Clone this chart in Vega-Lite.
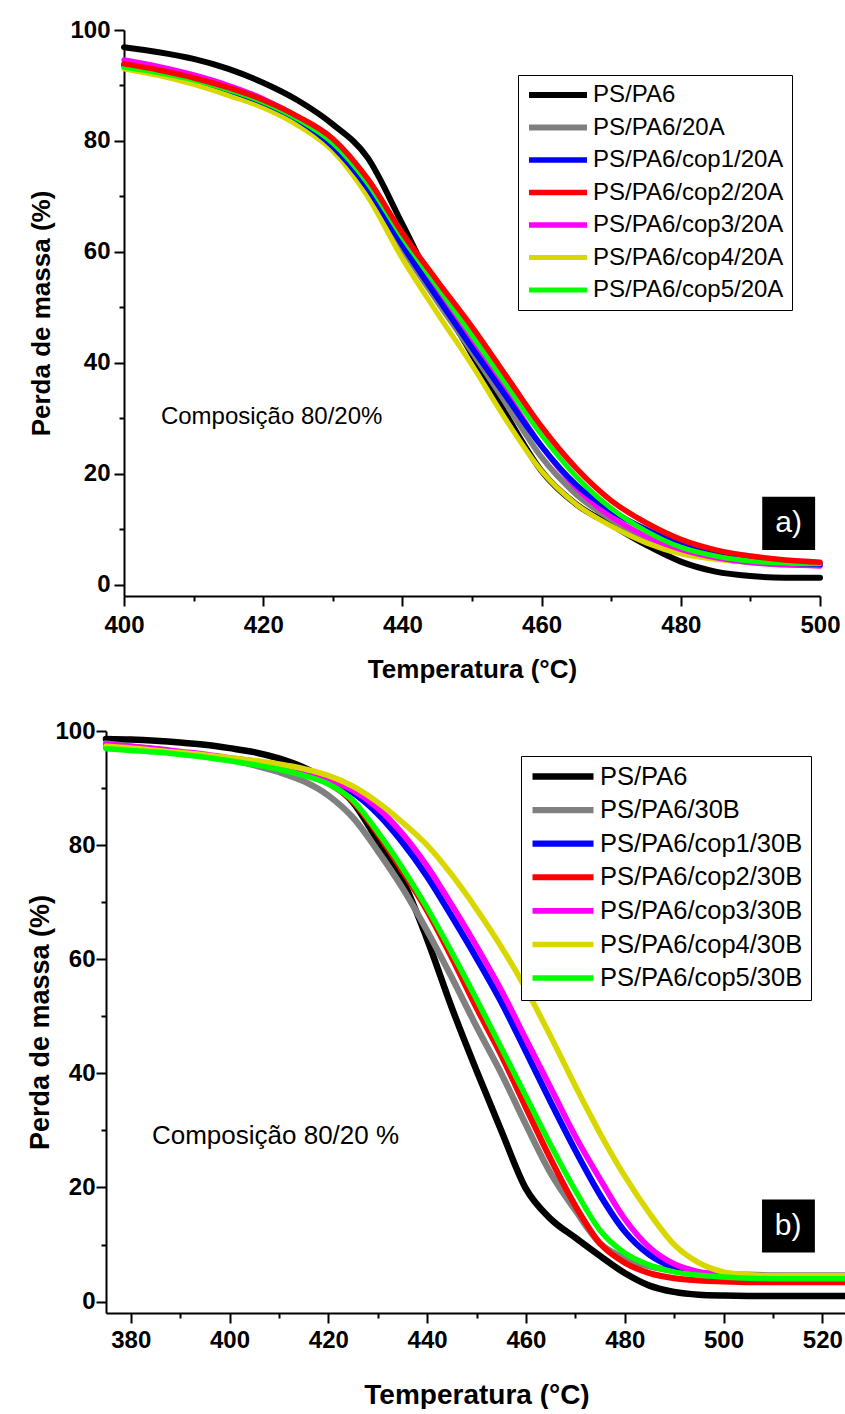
{
  "$schema": "https://vega.github.io/schema/vega-lite/v6.json",
  "background": "white",
  "padding": {"left": 26, "top": 18, "right": 0, "bottom": 0},
  "config": {
    "font": "Liberation Sans",
    "view": {"stroke": null},
    "axis": {
      "domainColor": "black", "domainWidth": 2, "tickColor": "black", "tickWidth": 2,
      "labelColor": "black", "titleColor": "black", "labelFontWeight": "bold", "titleFontWeight": "bold",
      "grid": false, "labelFont": "Liberation Sans", "titleFont": "Liberation Sans", "labelFlush": false, "labelOverlap": false
    }
  },
  "datasets": {
    "a": [
      {"s":"PS/PA6","T":400,"m":96.9},{"s":"PS/PA6","T":405,"m":96.0},{"s":"PS/PA6","T":410,"m":94.8},{"s":"PS/PA6","T":415,"m":93.0},{"s":"PS/PA6","T":420,"m":90.5},{"s":"PS/PA6","T":425,"m":87.3},{"s":"PS/PA6","T":430,"m":83.0},{"s":"PS/PA6","T":435,"m":77.0},{"s":"PS/PA6","T":440,"m":65.0},{"s":"PS/PA6","T":445,"m":52.5},{"s":"PS/PA6","T":450,"m":41.5},{"s":"PS/PA6","T":455,"m":30.5},{"s":"PS/PA6","T":460,"m":20.5},{"s":"PS/PA6","T":465,"m":14.5},{"s":"PS/PA6","T":470,"m":10.8},{"s":"PS/PA6","T":475,"m":7.2},{"s":"PS/PA6","T":480,"m":4.2},{"s":"PS/PA6","T":485,"m":2.4},{"s":"PS/PA6","T":490,"m":1.6},{"s":"PS/PA6","T":495,"m":1.3},{"s":"PS/PA6","T":500,"m":1.3},
      {"s":"PS/PA6/20A","T":400,"m":93.5},{"s":"PS/PA6/20A","T":405,"m":92.4},{"s":"PS/PA6/20A","T":410,"m":91.0},{"s":"PS/PA6/20A","T":415,"m":89.0},{"s":"PS/PA6/20A","T":420,"m":86.7},{"s":"PS/PA6/20A","T":425,"m":83.5},{"s":"PS/PA6/20A","T":430,"m":78.6},{"s":"PS/PA6/20A","T":435,"m":71.2},{"s":"PS/PA6/20A","T":440,"m":60.6},{"s":"PS/PA6/20A","T":445,"m":51.1},{"s":"PS/PA6/20A","T":450,"m":42.0},{"s":"PS/PA6/20A","T":455,"m":32.5},{"s":"PS/PA6/20A","T":460,"m":23.0},{"s":"PS/PA6/20A","T":465,"m":16.3},{"s":"PS/PA6/20A","T":470,"m":11.8},{"s":"PS/PA6/20A","T":475,"m":8.5},{"s":"PS/PA6/20A","T":480,"m":6.2},{"s":"PS/PA6/20A","T":485,"m":4.9},{"s":"PS/PA6/20A","T":490,"m":4.1},{"s":"PS/PA6/20A","T":495,"m":3.7},{"s":"PS/PA6/20A","T":500,"m":3.6},
      {"s":"PS/PA6/cop4/20A","T":400,"m":93.0},{"s":"PS/PA6/cop4/20A","T":405,"m":91.8},{"s":"PS/PA6/cop4/20A","T":410,"m":90.2},{"s":"PS/PA6/cop4/20A","T":415,"m":88.2},{"s":"PS/PA6/cop4/20A","T":420,"m":86.0},{"s":"PS/PA6/cop4/20A","T":425,"m":82.8},{"s":"PS/PA6/cop4/20A","T":430,"m":78.2},{"s":"PS/PA6/cop4/20A","T":435,"m":70.0},{"s":"PS/PA6/cop4/20A","T":440,"m":58.8},{"s":"PS/PA6/cop4/20A","T":445,"m":49.0},{"s":"PS/PA6/cop4/20A","T":450,"m":39.6},{"s":"PS/PA6/cop4/20A","T":455,"m":29.5},{"s":"PS/PA6/cop4/20A","T":460,"m":20.5},{"s":"PS/PA6/cop4/20A","T":465,"m":14.5},{"s":"PS/PA6/cop4/20A","T":470,"m":10.6},{"s":"PS/PA6/cop4/20A","T":475,"m":7.6},{"s":"PS/PA6/cop4/20A","T":480,"m":5.6},{"s":"PS/PA6/cop4/20A","T":485,"m":4.6},{"s":"PS/PA6/cop4/20A","T":490,"m":4.1},{"s":"PS/PA6/cop4/20A","T":495,"m":3.8},{"s":"PS/PA6/cop4/20A","T":500,"m":3.7},
      {"s":"PS/PA6/cop3/20A","T":400,"m":94.6},{"s":"PS/PA6/cop3/20A","T":405,"m":93.4},{"s":"PS/PA6/cop3/20A","T":410,"m":91.9},{"s":"PS/PA6/cop3/20A","T":415,"m":90.0},{"s":"PS/PA6/cop3/20A","T":420,"m":87.6},{"s":"PS/PA6/cop3/20A","T":425,"m":84.3},{"s":"PS/PA6/cop3/20A","T":430,"m":80.0},{"s":"PS/PA6/cop3/20A","T":435,"m":72.5},{"s":"PS/PA6/cop3/20A","T":440,"m":62.2},{"s":"PS/PA6/cop3/20A","T":445,"m":53.0},{"s":"PS/PA6/cop3/20A","T":450,"m":44.0},{"s":"PS/PA6/cop3/20A","T":455,"m":34.5},{"s":"PS/PA6/cop3/20A","T":460,"m":25.0},{"s":"PS/PA6/cop3/20A","T":465,"m":17.5},{"s":"PS/PA6/cop3/20A","T":470,"m":12.3},{"s":"PS/PA6/cop3/20A","T":475,"m":8.8},{"s":"PS/PA6/cop3/20A","T":480,"m":6.4},{"s":"PS/PA6/cop3/20A","T":485,"m":4.9},{"s":"PS/PA6/cop3/20A","T":490,"m":4.0},{"s":"PS/PA6/cop3/20A","T":495,"m":3.6},{"s":"PS/PA6/cop3/20A","T":500,"m":3.4},
      {"s":"PS/PA6/cop1/20A","T":400,"m":93.8},{"s":"PS/PA6/cop1/20A","T":405,"m":92.6},{"s":"PS/PA6/cop1/20A","T":410,"m":91.2},{"s":"PS/PA6/cop1/20A","T":415,"m":89.2},{"s":"PS/PA6/cop1/20A","T":420,"m":86.9},{"s":"PS/PA6/cop1/20A","T":425,"m":83.8},{"s":"PS/PA6/cop1/20A","T":430,"m":79.0},{"s":"PS/PA6/cop1/20A","T":435,"m":71.5},{"s":"PS/PA6/cop1/20A","T":440,"m":61.2},{"s":"PS/PA6/cop1/20A","T":445,"m":51.8},{"s":"PS/PA6/cop1/20A","T":450,"m":42.7},{"s":"PS/PA6/cop1/20A","T":455,"m":33.8},{"s":"PS/PA6/cop1/20A","T":460,"m":25.0},{"s":"PS/PA6/cop1/20A","T":465,"m":18.0},{"s":"PS/PA6/cop1/20A","T":470,"m":13.4},{"s":"PS/PA6/cop1/20A","T":475,"m":10.0},{"s":"PS/PA6/cop1/20A","T":480,"m":7.3},{"s":"PS/PA6/cop1/20A","T":485,"m":5.6},{"s":"PS/PA6/cop1/20A","T":490,"m":4.6},{"s":"PS/PA6/cop1/20A","T":495,"m":4.0},{"s":"PS/PA6/cop1/20A","T":500,"m":3.7},
      {"s":"PS/PA6/cop5/20A","T":400,"m":93.3},{"s":"PS/PA6/cop5/20A","T":405,"m":92.3},{"s":"PS/PA6/cop5/20A","T":410,"m":91.0},{"s":"PS/PA6/cop5/20A","T":415,"m":89.2},{"s":"PS/PA6/cop5/20A","T":420,"m":87.0},{"s":"PS/PA6/cop5/20A","T":425,"m":83.9},{"s":"PS/PA6/cop5/20A","T":430,"m":79.6},{"s":"PS/PA6/cop5/20A","T":435,"m":72.4},{"s":"PS/PA6/cop5/20A","T":440,"m":62.6},{"s":"PS/PA6/cop5/20A","T":445,"m":53.8},{"s":"PS/PA6/cop5/20A","T":450,"m":45.0},{"s":"PS/PA6/cop5/20A","T":455,"m":36.0},{"s":"PS/PA6/cop5/20A","T":460,"m":27.0},{"s":"PS/PA6/cop5/20A","T":465,"m":19.5},{"s":"PS/PA6/cop5/20A","T":470,"m":13.8},{"s":"PS/PA6/cop5/20A","T":475,"m":9.7},{"s":"PS/PA6/cop5/20A","T":480,"m":6.8},{"s":"PS/PA6/cop5/20A","T":485,"m":5.2},{"s":"PS/PA6/cop5/20A","T":490,"m":4.3},{"s":"PS/PA6/cop5/20A","T":495,"m":3.9},{"s":"PS/PA6/cop5/20A","T":500,"m":3.8},
      {"s":"PS/PA6/cop2/20A","T":400,"m":93.9},{"s":"PS/PA6/cop2/20A","T":405,"m":92.8},{"s":"PS/PA6/cop2/20A","T":410,"m":91.4},{"s":"PS/PA6/cop2/20A","T":415,"m":89.6},{"s":"PS/PA6/cop2/20A","T":420,"m":87.4},{"s":"PS/PA6/cop2/20A","T":425,"m":84.4},{"s":"PS/PA6/cop2/20A","T":430,"m":80.4},{"s":"PS/PA6/cop2/20A","T":435,"m":73.2},{"s":"PS/PA6/cop2/20A","T":440,"m":63.4},{"s":"PS/PA6/cop2/20A","T":445,"m":54.8},{"s":"PS/PA6/cop2/20A","T":450,"m":46.5},{"s":"PS/PA6/cop2/20A","T":455,"m":37.5},{"s":"PS/PA6/cop2/20A","T":460,"m":28.5},{"s":"PS/PA6/cop2/20A","T":465,"m":21.0},{"s":"PS/PA6/cop2/20A","T":470,"m":15.2},{"s":"PS/PA6/cop2/20A","T":475,"m":11.2},{"s":"PS/PA6/cop2/20A","T":480,"m":8.2},{"s":"PS/PA6/cop2/20A","T":485,"m":6.3},{"s":"PS/PA6/cop2/20A","T":490,"m":5.2},{"s":"PS/PA6/cop2/20A","T":495,"m":4.5},{"s":"PS/PA6/cop2/20A","T":500,"m":4.1}
    ],
    "b": [
      {"s":"PS/PA6","T":375,"m":98.6},{"s":"PS/PA6","T":380,"m":98.5},{"s":"PS/PA6","T":385,"m":98.3},{"s":"PS/PA6","T":390,"m":98.0},{"s":"PS/PA6","T":395,"m":97.6},{"s":"PS/PA6","T":400,"m":97.0},{"s":"PS/PA6","T":405,"m":96.3},{"s":"PS/PA6","T":410,"m":95.2},{"s":"PS/PA6","T":415,"m":93.6},{"s":"PS/PA6","T":420,"m":91.2},{"s":"PS/PA6","T":425,"m":87.5},{"s":"PS/PA6","T":430,"m":80.8},{"s":"PS/PA6","T":435,"m":74.0},{"s":"PS/PA6","T":440,"m":63.5},{"s":"PS/PA6","T":445,"m":51.5},{"s":"PS/PA6","T":450,"m":40.5},{"s":"PS/PA6","T":455,"m":30.0},{"s":"PS/PA6","T":460,"m":19.8},{"s":"PS/PA6","T":465,"m":14.5},{"s":"PS/PA6","T":470,"m":11.2},{"s":"PS/PA6","T":475,"m":8.0},{"s":"PS/PA6","T":480,"m":5.0},{"s":"PS/PA6","T":485,"m":2.8},{"s":"PS/PA6","T":490,"m":1.7},{"s":"PS/PA6","T":495,"m":1.2},{"s":"PS/PA6","T":500,"m":1.05},{"s":"PS/PA6","T":505,"m":1.0},{"s":"PS/PA6","T":510,"m":1.0},{"s":"PS/PA6","T":515,"m":1.0},{"s":"PS/PA6","T":520,"m":1.0},{"s":"PS/PA6","T":525,"m":1.0},
      {"s":"PS/PA6/30B","T":375,"m":97.8},{"s":"PS/PA6/30B","T":380,"m":97.3},{"s":"PS/PA6/30B","T":385,"m":96.8},{"s":"PS/PA6/30B","T":390,"m":96.2},{"s":"PS/PA6/30B","T":395,"m":95.6},{"s":"PS/PA6/30B","T":400,"m":95.0},{"s":"PS/PA6/30B","T":405,"m":94.0},{"s":"PS/PA6/30B","T":410,"m":92.8},{"s":"PS/PA6/30B","T":415,"m":91.2},{"s":"PS/PA6/30B","T":420,"m":88.7},{"s":"PS/PA6/30B","T":425,"m":84.8},{"s":"PS/PA6/30B","T":430,"m":79.0},{"s":"PS/PA6/30B","T":435,"m":72.5},{"s":"PS/PA6/30B","T":440,"m":65.0},{"s":"PS/PA6/30B","T":445,"m":56.8},{"s":"PS/PA6/30B","T":450,"m":48.2},{"s":"PS/PA6/30B","T":455,"m":40.0},{"s":"PS/PA6/30B","T":460,"m":31.0},{"s":"PS/PA6/30B","T":465,"m":22.5},{"s":"PS/PA6/30B","T":470,"m":16.0},{"s":"PS/PA6/30B","T":475,"m":10.2},{"s":"PS/PA6/30B","T":480,"m":7.6},{"s":"PS/PA6/30B","T":485,"m":6.2},{"s":"PS/PA6/30B","T":490,"m":5.4},{"s":"PS/PA6/30B","T":495,"m":5.0},{"s":"PS/PA6/30B","T":500,"m":4.8},{"s":"PS/PA6/30B","T":505,"m":4.7},{"s":"PS/PA6/30B","T":510,"m":4.6},{"s":"PS/PA6/30B","T":515,"m":4.6},{"s":"PS/PA6/30B","T":520,"m":4.6},{"s":"PS/PA6/30B","T":525,"m":4.6},
      {"s":"PS/PA6/cop1/30B","T":375,"m":97.4},{"s":"PS/PA6/cop1/30B","T":380,"m":97.0},{"s":"PS/PA6/cop1/30B","T":385,"m":96.6},{"s":"PS/PA6/cop1/30B","T":390,"m":96.1},{"s":"PS/PA6/cop1/30B","T":395,"m":95.6},{"s":"PS/PA6/cop1/30B","T":400,"m":95.1},{"s":"PS/PA6/cop1/30B","T":405,"m":94.5},{"s":"PS/PA6/cop1/30B","T":410,"m":93.8},{"s":"PS/PA6/cop1/30B","T":415,"m":92.8},{"s":"PS/PA6/cop1/30B","T":420,"m":91.4},{"s":"PS/PA6/cop1/30B","T":425,"m":89.2},{"s":"PS/PA6/cop1/30B","T":430,"m":85.5},{"s":"PS/PA6/cop1/30B","T":435,"m":80.5},{"s":"PS/PA6/cop1/30B","T":440,"m":74.5},{"s":"PS/PA6/cop1/30B","T":445,"m":67.5},{"s":"PS/PA6/cop1/30B","T":450,"m":60.2},{"s":"PS/PA6/cop1/30B","T":455,"m":52.5},{"s":"PS/PA6/cop1/30B","T":460,"m":43.8},{"s":"PS/PA6/cop1/30B","T":465,"m":35.0},{"s":"PS/PA6/cop1/30B","T":470,"m":26.5},{"s":"PS/PA6/cop1/30B","T":475,"m":18.7},{"s":"PS/PA6/cop1/30B","T":480,"m":12.3},{"s":"PS/PA6/cop1/30B","T":485,"m":8.2},{"s":"PS/PA6/cop1/30B","T":490,"m":6.0},{"s":"PS/PA6/cop1/30B","T":495,"m":5.0},{"s":"PS/PA6/cop1/30B","T":500,"m":4.6},{"s":"PS/PA6/cop1/30B","T":505,"m":4.4},{"s":"PS/PA6/cop1/30B","T":510,"m":4.3},{"s":"PS/PA6/cop1/30B","T":515,"m":4.3},{"s":"PS/PA6/cop1/30B","T":520,"m":4.3},{"s":"PS/PA6/cop1/30B","T":525,"m":4.3},
      {"s":"PS/PA6/cop2/30B","T":375,"m":97.2},{"s":"PS/PA6/cop2/30B","T":380,"m":96.9},{"s":"PS/PA6/cop2/30B","T":385,"m":96.5},{"s":"PS/PA6/cop2/30B","T":390,"m":96.1},{"s":"PS/PA6/cop2/30B","T":395,"m":95.6},{"s":"PS/PA6/cop2/30B","T":400,"m":95.0},{"s":"PS/PA6/cop2/30B","T":405,"m":94.3},{"s":"PS/PA6/cop2/30B","T":410,"m":93.5},{"s":"PS/PA6/cop2/30B","T":415,"m":92.4},{"s":"PS/PA6/cop2/30B","T":420,"m":90.8},{"s":"PS/PA6/cop2/30B","T":425,"m":87.6},{"s":"PS/PA6/cop2/30B","T":430,"m":82.0},{"s":"PS/PA6/cop2/30B","T":435,"m":75.5},{"s":"PS/PA6/cop2/30B","T":440,"m":68.5},{"s":"PS/PA6/cop2/30B","T":445,"m":60.3},{"s":"PS/PA6/cop2/30B","T":450,"m":51.5},{"s":"PS/PA6/cop2/30B","T":455,"m":43.2},{"s":"PS/PA6/cop2/30B","T":460,"m":34.0},{"s":"PS/PA6/cop2/30B","T":465,"m":25.0},{"s":"PS/PA6/cop2/30B","T":470,"m":16.8},{"s":"PS/PA6/cop2/30B","T":475,"m":10.2},{"s":"PS/PA6/cop2/30B","T":480,"m":6.8},{"s":"PS/PA6/cop2/30B","T":485,"m":5.0},{"s":"PS/PA6/cop2/30B","T":490,"m":4.1},{"s":"PS/PA6/cop2/30B","T":495,"m":3.7},{"s":"PS/PA6/cop2/30B","T":500,"m":3.5},{"s":"PS/PA6/cop2/30B","T":505,"m":3.4},{"s":"PS/PA6/cop2/30B","T":510,"m":3.4},{"s":"PS/PA6/cop2/30B","T":515,"m":3.4},{"s":"PS/PA6/cop2/30B","T":520,"m":3.4},{"s":"PS/PA6/cop2/30B","T":525,"m":3.4},
      {"s":"PS/PA6/cop3/30B","T":375,"m":97.7},{"s":"PS/PA6/cop3/30B","T":380,"m":97.3},{"s":"PS/PA6/cop3/30B","T":385,"m":96.9},{"s":"PS/PA6/cop3/30B","T":390,"m":96.4},{"s":"PS/PA6/cop3/30B","T":395,"m":95.9},{"s":"PS/PA6/cop3/30B","T":400,"m":95.3},{"s":"PS/PA6/cop3/30B","T":405,"m":94.7},{"s":"PS/PA6/cop3/30B","T":410,"m":94.0},{"s":"PS/PA6/cop3/30B","T":415,"m":93.0},{"s":"PS/PA6/cop3/30B","T":420,"m":91.6},{"s":"PS/PA6/cop3/30B","T":425,"m":89.6},{"s":"PS/PA6/cop3/30B","T":430,"m":86.5},{"s":"PS/PA6/cop3/30B","T":435,"m":82.0},{"s":"PS/PA6/cop3/30B","T":440,"m":76.3},{"s":"PS/PA6/cop3/30B","T":445,"m":69.5},{"s":"PS/PA6/cop3/30B","T":450,"m":62.3},{"s":"PS/PA6/cop3/30B","T":455,"m":54.6},{"s":"PS/PA6/cop3/30B","T":460,"m":46.0},{"s":"PS/PA6/cop3/30B","T":465,"m":37.5},{"s":"PS/PA6/cop3/30B","T":470,"m":29.0},{"s":"PS/PA6/cop3/30B","T":475,"m":21.5},{"s":"PS/PA6/cop3/30B","T":480,"m":14.5},{"s":"PS/PA6/cop3/30B","T":485,"m":9.5},{"s":"PS/PA6/cop3/30B","T":490,"m":6.6},{"s":"PS/PA6/cop3/30B","T":495,"m":5.2},{"s":"PS/PA6/cop3/30B","T":500,"m":4.7},{"s":"PS/PA6/cop3/30B","T":505,"m":4.5},{"s":"PS/PA6/cop3/30B","T":510,"m":4.4},{"s":"PS/PA6/cop3/30B","T":515,"m":4.4},{"s":"PS/PA6/cop3/30B","T":520,"m":4.4},{"s":"PS/PA6/cop3/30B","T":525,"m":4.4},
      {"s":"PS/PA6/cop4/30B","T":375,"m":97.3},{"s":"PS/PA6/cop4/30B","T":380,"m":97.0},{"s":"PS/PA6/cop4/30B","T":385,"m":96.6},{"s":"PS/PA6/cop4/30B","T":390,"m":96.2},{"s":"PS/PA6/cop4/30B","T":395,"m":95.8},{"s":"PS/PA6/cop4/30B","T":400,"m":95.3},{"s":"PS/PA6/cop4/30B","T":405,"m":94.8},{"s":"PS/PA6/cop4/30B","T":410,"m":94.2},{"s":"PS/PA6/cop4/30B","T":415,"m":93.4},{"s":"PS/PA6/cop4/30B","T":420,"m":92.2},{"s":"PS/PA6/cop4/30B","T":425,"m":90.3},{"s":"PS/PA6/cop4/30B","T":430,"m":87.5},{"s":"PS/PA6/cop4/30B","T":435,"m":84.0},{"s":"PS/PA6/cop4/30B","T":440,"m":80.0},{"s":"PS/PA6/cop4/30B","T":445,"m":74.8},{"s":"PS/PA6/cop4/30B","T":450,"m":68.8},{"s":"PS/PA6/cop4/30B","T":455,"m":62.2},{"s":"PS/PA6/cop4/30B","T":460,"m":54.8},{"s":"PS/PA6/cop4/30B","T":465,"m":46.5},{"s":"PS/PA6/cop4/30B","T":470,"m":37.8},{"s":"PS/PA6/cop4/30B","T":475,"m":29.5},{"s":"PS/PA6/cop4/30B","T":480,"m":22.0},{"s":"PS/PA6/cop4/30B","T":485,"m":15.5},{"s":"PS/PA6/cop4/30B","T":490,"m":10.0},{"s":"PS/PA6/cop4/30B","T":495,"m":6.8},{"s":"PS/PA6/cop4/30B","T":500,"m":5.2},{"s":"PS/PA6/cop4/30B","T":505,"m":4.7},{"s":"PS/PA6/cop4/30B","T":510,"m":4.5},{"s":"PS/PA6/cop4/30B","T":515,"m":4.5},{"s":"PS/PA6/cop4/30B","T":520,"m":4.5},{"s":"PS/PA6/cop4/30B","T":525,"m":4.5},
      {"s":"PS/PA6/cop5/30B","T":375,"m":96.9},{"s":"PS/PA6/cop5/30B","T":380,"m":96.6},{"s":"PS/PA6/cop5/30B","T":385,"m":96.3},{"s":"PS/PA6/cop5/30B","T":390,"m":95.9},{"s":"PS/PA6/cop5/30B","T":395,"m":95.4},{"s":"PS/PA6/cop5/30B","T":400,"m":94.8},{"s":"PS/PA6/cop5/30B","T":405,"m":94.1},{"s":"PS/PA6/cop5/30B","T":410,"m":93.3},{"s":"PS/PA6/cop5/30B","T":415,"m":92.2},{"s":"PS/PA6/cop5/30B","T":420,"m":90.7},{"s":"PS/PA6/cop5/30B","T":425,"m":87.8},{"s":"PS/PA6/cop5/30B","T":430,"m":82.3},{"s":"PS/PA6/cop5/30B","T":435,"m":76.0},{"s":"PS/PA6/cop5/30B","T":440,"m":69.0},{"s":"PS/PA6/cop5/30B","T":445,"m":61.2},{"s":"PS/PA6/cop5/30B","T":450,"m":53.0},{"s":"PS/PA6/cop5/30B","T":455,"m":44.5},{"s":"PS/PA6/cop5/30B","T":460,"m":36.0},{"s":"PS/PA6/cop5/30B","T":465,"m":27.5},{"s":"PS/PA6/cop5/30B","T":470,"m":19.5},{"s":"PS/PA6/cop5/30B","T":475,"m":12.5},{"s":"PS/PA6/cop5/30B","T":480,"m":8.5},{"s":"PS/PA6/cop5/30B","T":485,"m":6.4},{"s":"PS/PA6/cop5/30B","T":490,"m":5.2},{"s":"PS/PA6/cop5/30B","T":495,"m":4.6},{"s":"PS/PA6/cop5/30B","T":500,"m":4.3},{"s":"PS/PA6/cop5/30B","T":505,"m":4.1},{"s":"PS/PA6/cop5/30B","T":510,"m":4.0},{"s":"PS/PA6/cop5/30B","T":515,"m":4.0},{"s":"PS/PA6/cop5/30B","T":520,"m":4.0},{"s":"PS/PA6/cop5/30B","T":525,"m":4.0}
    ]
  },
  "vconcat": [
    {
      "width": 714,
      "height": 566,
      "layer": [
        {
          "data": {"name": "a"},
          "mark": {"type": "line", "interpolate": "monotone", "strokeCap": "round"},
          "encoding": {
            "x": {"field": "T", "type": "quantitative", "scale": {"domain": [400, 500], "range": [18, 714], "nice": false},
              "axis": {"title": "Temperatura (°C)", "values": [400,410,420,430,440,450,460,470,480,490,500],
                "labelExpr": "datum.value % 20 === 0 ? datum.label : ''",
                "tickSize": {"condition": {"test": "datum.value % 20 === 0", "value": 10}, "value": 5},
                "labelFontSize": 24, "titleFontSize": 26, "labelPadding": 7, "titlePadding": 19}},
            "y": {"field": "m", "type": "quantitative", "scale": {"domain": [-2, 100], "nice": false},
              "axis": {"title": "Perda de massa (%)", "values": [0,10,20,30,40,50,60,70,80,90,100], "offset": -18,
                "labelExpr": "datum.value % 20 === 0 ? datum.label : ''",
                "tickSize": {"condition": {"test": "datum.value % 20 === 0", "value": 10}, "value": 5},
                "labelFontSize": 24, "titleFontSize": 26, "labelPadding": 4, "titlePadding": 15}},
            "color": {"field": "s", "type": "nominal",
              "scale": {"domain": ["PS/PA6","PS/PA6/20A","PS/PA6/cop1/20A","PS/PA6/cop2/20A","PS/PA6/cop3/20A","PS/PA6/cop4/20A","PS/PA6/cop5/20A"],
                "range": ["#000000","#808080","#0000FF","#FF0000","#FF00FF","#D8D800","#00FF00"]},
              "legend": {"title": null, "orient": "none", "legendX": 412, "legendY": 45, "symbolType": "stroke", "symbolSize": 3364, "clipHeight": 24, "rowPadding": 8.5, "labelFontSize": 24, "labelFont": "Liberation Sans", "labelColor": "black", "labelLimit": 400, "labelOffset": 3, "padding": 8, "strokeColor": "black", "fillColor": "white"}},
            "strokeWidth": {"field": "s", "type": "nominal",
              "scale": {"domain": ["PS/PA6","PS/PA6/20A","PS/PA6/cop1/20A","PS/PA6/cop2/20A","PS/PA6/cop3/20A","PS/PA6/cop4/20A","PS/PA6/cop5/20A"],
                "range": [6, 5, 5, 5, 5, 5, 5]},
              "legend": {"title": null, "orient": "none", "legendX": 412, "legendY": 45, "symbolType": "stroke", "symbolSize": 3364, "clipHeight": 24, "rowPadding": 8.5, "labelFontSize": 24, "labelFont": "Liberation Sans", "labelColor": "black", "labelLimit": 400, "labelOffset": 3, "padding": 8, "strokeColor": "black", "fillColor": "white"}}
          }
        },
        {
          "data": {"values": [{}]},
          "mark": {"type": "text", "align": "left", "baseline": "middle", "fontSize": 24, "font": "Liberation Sans", "color": "black"},
          "encoding": {"x": {"datum": 405.3}, "y": {"datum": 30.3}, "text": {"value": "Composição 80/20%"}}
        },
        {
          "data": {"values": [{}]},
          "mark": {"type": "rect", "color": "black"},
          "encoding": {"x": {"datum": 491.7}, "x2": {"datum": 499.3}, "y": {"datum": 15.9}, "y2": {"datum": 6.3}}
        },
        {
          "data": {"values": [{}]},
          "mark": {"type": "text", "align": "center", "baseline": "middle", "fontSize": 30, "font": "Liberation Sans", "color": "white"},
          "encoding": {"x": {"datum": 495.5}, "y": {"datum": 11.1}, "text": {"value": "a)"}}
        }
      ]
    },
    {
      "width": 741,
      "height": 582,
      "layer": [
        {
          "data": {"name": "b"},
          "mark": {"type": "line", "interpolate": "monotone", "strokeCap": "round"},
          "encoding": {
            "x": {"field": "T", "type": "quantitative", "scale": {"domain": [375, 525], "nice": false},
              "axis": {"title": "Temperatura (°C)", "values": [380,390,400,410,420,430,440,450,460,470,480,490,500,510,520],
                "labelExpr": "datum.value % 20 === 0 ? datum.label : ''",
                "tickSize": {"condition": {"test": "datum.value % 20 === 0", "value": 10}, "value": 5},
                "labelFontSize": 24, "titleFontSize": 28, "labelPadding": 5, "titlePadding": 29}},
            "y": {"field": "m", "type": "quantitative", "scale": {"domain": [-2, 100], "nice": false},
              "axis": {"title": "Perda de massa (%)", "values": [0,10,20,30,40,50,60,70,80,90,100],
                "labelExpr": "datum.value % 20 === 0 ? datum.label : ''",
                "tickSize": {"condition": {"test": "datum.value % 20 === 0", "value": 10}, "value": 5},
                "labelFontSize": 24, "titleFontSize": 27, "labelPadding": 1, "titlePadding": 0}},
            "color": {"field": "s", "type": "nominal",
              "scale": {"domain": ["PS/PA6","PS/PA6/30B","PS/PA6/cop1/30B","PS/PA6/cop2/30B","PS/PA6/cop3/30B","PS/PA6/cop4/30B","PS/PA6/cop5/30B"],
                "range": ["#000000","#808080","#0000FF","#FF0000","#FF00FF","#D8D800","#00FF00"]},
              "legend": {"title": null, "orient": "none", "legendX": 415, "legendY": 25, "symbolType": "stroke", "symbolSize": 3721, "clipHeight": 25, "rowPadding": 7.6, "labelFontSize": 25.5, "labelFont": "Liberation Sans", "labelColor": "black", "labelLimit": 400, "labelOffset": 3, "padding": 8, "strokeColor": "black", "fillColor": "white"}},
            "strokeWidth": {"field": "s", "type": "nominal",
              "scale": {"domain": ["PS/PA6","PS/PA6/30B","PS/PA6/cop1/30B","PS/PA6/cop2/30B","PS/PA6/cop3/30B","PS/PA6/cop4/30B","PS/PA6/cop5/30B"],
                "range": [6.5, 5.5, 3.5, 3.5, 3.5, 3.5, 3.5]},
              "legend": {"title": null, "orient": "none", "legendX": 415, "legendY": 25, "symbolType": "stroke", "symbolSize": 3721, "clipHeight": 25, "rowPadding": 7.6, "labelFontSize": 25.5, "labelFont": "Liberation Sans", "labelColor": "black", "labelLimit": 400, "labelOffset": 3, "padding": 8, "strokeColor": "black", "fillColor": "white"}}
          }
        },
        {
          "data": {"values": [{}]},
          "mark": {"type": "text", "align": "left", "baseline": "middle", "fontSize": 26, "font": "Liberation Sans", "color": "black"},
          "encoding": {"x": {"datum": 384.3}, "y": {"datum": 29.1}, "text": {"value": "Composição 80/20 %"}}
        },
        {
          "data": {"values": [{}]},
          "mark": {"type": "rect", "color": "black"},
          "encoding": {"x": {"datum": 507.8}, "x2": {"datum": 518.5}, "y": {"datum": 17.9}, "y2": {"datum": 8.6}}
        },
        {
          "data": {"values": [{}]},
          "mark": {"type": "text", "align": "center", "baseline": "middle", "fontSize": 30, "font": "Liberation Sans", "color": "white"},
          "encoding": {"x": {"datum": 513.1}, "y": {"datum": 13.2}, "text": {"value": "b)"}}
        }
      ]
    }
  ],
  "spacing": 37,
  "center": false,
  "resolve": {"scale": {"color": "independent", "strokeWidth": "independent", "x": "independent", "y": "independent"}}
}
